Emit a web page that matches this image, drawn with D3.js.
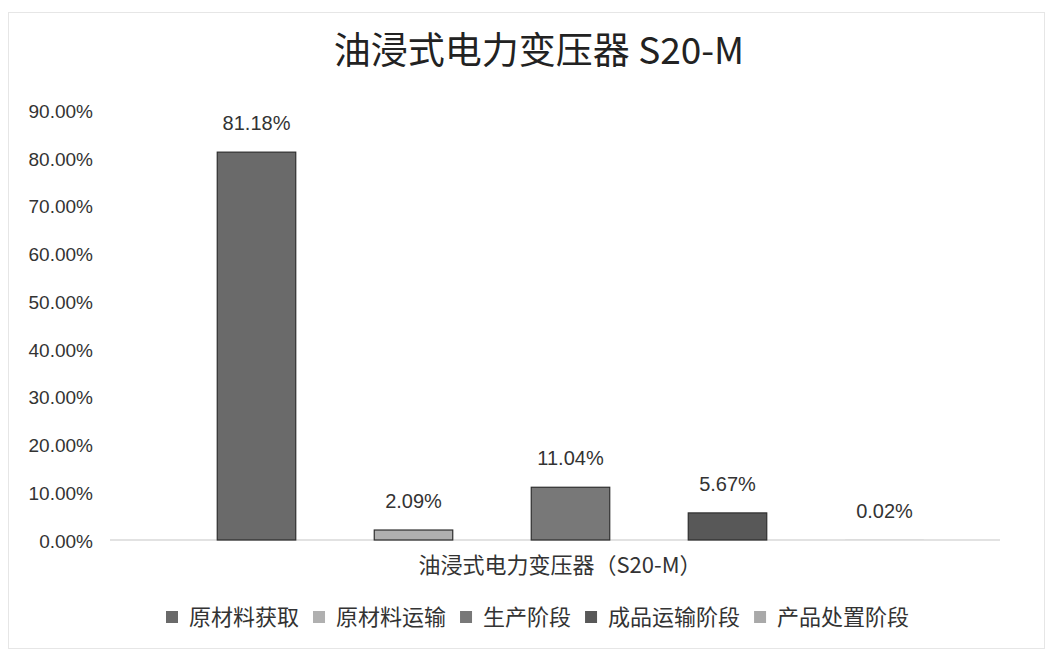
<!DOCTYPE html>
<html>
<head>
<meta charset="utf-8">
<script src="https://cdn.jsdelivr.net/npm/d3@7"></script>
<style>
  body { margin: 0; background: #fff; }
  svg { display: block; font-family: "Noto Sans CJK SC", "Noto Sans", sans-serif; }
</style>
</head>
<body>
<div id="chart"></div>
<script>
var title = '油浸式电力变压器 S20-M'
var category = '油浸式电力变压器（S20-M）'
var series = ['原材料获取', '原材料运输', '生产阶段', '成品运输阶段', '产品处置阶段']
var values = [0.8118, 0.0209, 0.1104, 0.0567, 0.0002]
var colors = ['#6a6a6a', '#b0b0b0', '#787878', '#585858', '#a9a9a9']
var yTicks = [0, 0.1, 0.2, 0.3, 0.4, 0.5, 0.6, 0.7, 0.8, 0.9]

var width = 1051
var height = 654

var svg = d3.select('#chart').append('svg')
  .attr('width', width)
  .attr('height', height)

// faint frame of the scanned chart area
svg.append('rect')
  .attr('x', 8.5).attr('y', 12.5)
  .attr('width', 1036).attr('height', 636)
  .attr('fill', 'none')
  .attr('stroke', '#e6e6e6')

svg.append('text')
  .attr('x', 539)
  .attr('y', 64)
  .attr('text-anchor', 'middle')
  .style('font-size', '37px')
  .style('fill', '#222')
  .text(title)

var y = d3.scaleLinear().domain([0, 0.9]).range([540, 110])
var x = d3.scaleBand().domain(series).range([178, 963])
  .paddingInner(0.5).paddingOuter(0.25)

var fmt = d3.format('.2%')

// y axis labels
var yAxis = d3.axisLeft(y).tickValues(yTicks).tickFormat(fmt).tickSize(0).tickPadding(0)
var gy = svg.append('g').attr('transform', 'translate(93,0)').call(yAxis)
gy.select('.domain').remove()
gy.selectAll('text')
  .style('font-family', '"Liberation Sans", Arial, sans-serif')
  .style('font-size', '19px')
  .style('fill', '#333')
  .attr('dy', '0.38em')

// baseline
svg.append('line')
  .attr('x1', 110).attr('x2', 1000)
  .attr('y1', y(0)).attr('y2', y(0))
  .attr('stroke', '#d9d9d9')
  .attr('stroke-width', 1.5)

svg.append('g').selectAll('rect')
  .data(values)
  .enter().append('rect')
  .attr('x', function (d, i) { return x(series[i]) })
  .attr('y', function (d) { return y(d) })
  .attr('width', x.bandwidth())
  .attr('height', function (d) { return y(0) - y(d) })
  .attr('fill', function (d, i) { return colors[i] })
  .attr('stroke', function (d) { return d > 0.001 ? '#2e2e2e' : 'none' })
  .attr('stroke-width', 1.2)

svg.append('g').selectAll('text')
  .data(values)
  .enter().append('text')
  .attr('x', function (d, i) { return x(series[i]) + x.bandwidth() / 2 })
  .attr('y', function (d) { return y(d) - 22 })
  .attr('text-anchor', 'middle')
  .style('font-family', '"Liberation Sans", Arial, sans-serif')
  .style('font-size', '20px')
  .style('fill', '#333')
  .text(function (d) { return fmt(d) })

svg.append('text')
  .attr('x', 560)
  .attr('y', 573)
  .attr('text-anchor', 'middle')
  .style('font-size', '22px')
  .style('fill', '#333')
  .text(category)

// legend
var legend = svg.append('g').attr('transform', 'translate(166,617)')
var lx = 0
series.forEach(function (s, i) {
  var item = legend.append('g').attr('transform', 'translate(' + lx + ',0)')
  item.append('rect')
    .attr('x', 0).attr('y', -6)
    .attr('width', 12).attr('height', 12)
    .attr('fill', colors[i])
  var t = item.append('text')
    .attr('x', 23)
    .attr('dy', '0.36em')
    .style('font-size', '22px')
    .style('fill', '#333')
    .text(s)
  lx += 23 + t.node().getComputedTextLength() + 14
})
</script>
</body>
</html>
